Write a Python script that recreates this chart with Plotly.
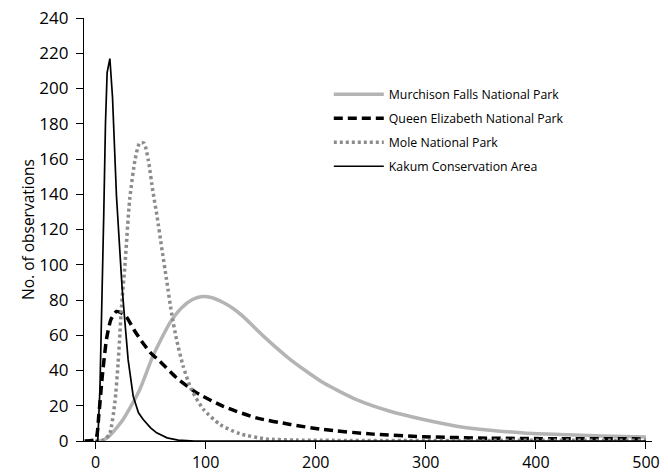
import plotly.graph_objects as go

# Frequency curves of observation distances per site
murchison_x = [0, 4, 12, 25, 40, 52, 67.5, 78, 88, 97, 106, 116, 125, 134, 152, 177, 207, 237, 267.5, 298, 328, 358.5, 389, 422, 460, 500]
murchison_y = [0, 0, 2.5, 12.2, 29, 48, 67, 75.5, 80.3, 82, 81.3, 78.6, 75.2, 70.7, 59.8, 46.2, 33, 23.5, 16.9, 12.2, 8.4, 6.1, 4.6, 3.7, 2.9, 2.2]

queen_x = [-10, 0, 3, 6, 10, 14, 19, 24, 28, 35, 43, 50, 58.5, 73.6, 92, 116, 146, 177, 207, 252, 298, 358, 420, 500]
queen_y = [0, 1, 15, 36, 58, 69, 73.5, 72.5, 70.5, 63, 55.6, 50, 45.2, 35.8, 27.3, 19.7, 13.1, 9.4, 6.5, 3.9, 2.4, 1.6, 1.3, 1.2]

mole_x = [0, 8, 13, 17.5, 20.5, 23.6, 26.6, 31, 36, 40, 44, 48, 52, 56, 60, 64.5, 69, 73.6, 79.6, 87, 98, 113, 131, 155, 183, 500]
mole_y = [0.5, 0.5, 4.6, 21.6, 44.3, 76.4, 99, 137, 160, 169, 169, 159, 142, 127, 110, 91.5, 72.6, 57.5, 42.4, 29.2, 17.9, 9.4, 4.1, 1.2, 0.5, 0.5]

kakum_x = [0, 2, 4, 6, 7.5, 9, 10.5, 13, 15.4, 19, 22, 24, 26.6, 29.6, 34.2, 39, 43.3, 50, 55.5, 65, 75, 90, 500]
kakum_y = [0, 0, 30, 80, 130, 180, 209, 217, 195, 139, 108, 88, 68, 46, 25.4, 16, 12.2, 7.5, 4.6, 1.8, 0.5, 0, 0]

y_ticks = list(range(0, 241, 20))
x_ticks = [0, 100, 200, 300, 400, 500]

FONT = "Open Sans"

fig = go.Figure()
fig.add_trace(go.Scatter(x=murchison_x, y=murchison_y, mode="lines",
                         name="Murchison Falls National Park", legendgroup="a",
                         line=dict(color="#b4b4b4", width=3.5, shape="spline", smoothing=0.6)))
fig.add_trace(go.Scatter(x=queen_x, y=queen_y, mode="lines",
                         name="Queen Elizabeth National Park", legendgroup="b",
                         line=dict(color="#000000", width=3.5, dash="9px,5px", shape="spline", smoothing=0.6)))
fig.add_trace(go.Scatter(x=mole_x, y=mole_y, mode="lines",
                         name="Mole National Park", legendgroup="c",
                         line=dict(color="#8c8c8c", width=3.5, dash="3px,3px", shape="spline", smoothing=0.6)))
fig.add_trace(go.Scatter(x=kakum_x, y=kakum_y, mode="lines",
                         name="Kakum Conservation Area", legendgroup="d",
                         line=dict(color="#000000", width=1.7)))

fig.update_layout(
    width=668, height=473,
    margin=dict(l=84, r=16, t=18, b=31.5),
    paper_bgcolor="white", plot_bgcolor="white",
    font=dict(family=FONT, size=17, color="#000000"),
    showlegend=True,
    legend=dict(x=0.431, y=0.854, xanchor="left", yanchor="top",
                font=dict(family=FONT, size=12.3), itemwidth=50,
                tracegroupgap=5, bgcolor="rgba(0,0,0,0)"),
    xaxis=dict(range=[-10.5, 505.5], tickvals=x_ticks, showline=True, linecolor="#000000",
               linewidth=1.2, ticks="outside", ticklen=7, tickcolor="#000000", tickwidth=1.2,
               showgrid=False, zeroline=False, tickfont=dict(size=16), automargin=False),
    yaxis=dict(range=[0, 240], tickvals=y_ticks, showline=True, linecolor="#000000",
               linewidth=1.2, ticks="outside", ticklen=7, tickcolor="#000000", tickwidth=1.2,
               showgrid=False, zeroline=False, tickfont=dict(size=17), automargin=False,
               ticklabelstandoff=4,
               title=dict(text="No. of observations", font=dict(size=15.5), standoff=0)),
)

fig.write_html("out.html")
